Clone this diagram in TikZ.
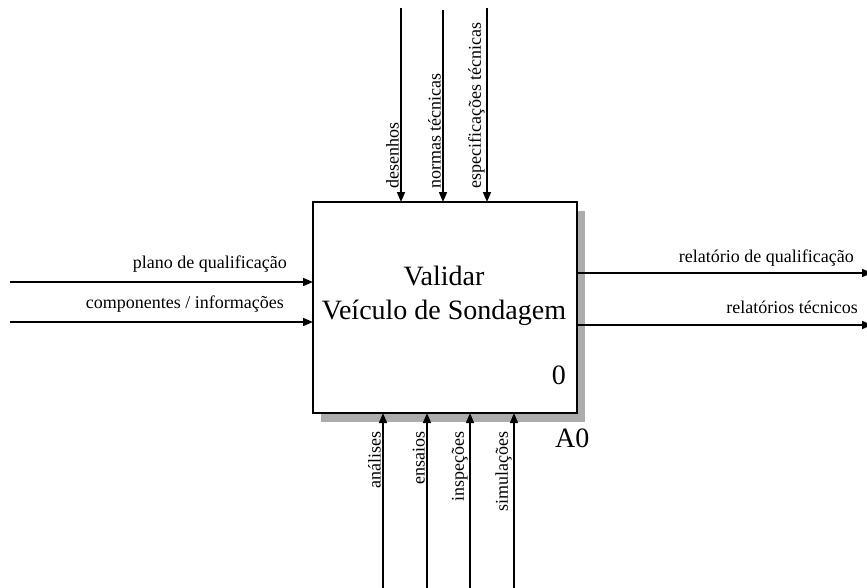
\documentclass[tikz,border=0pt]{standalone}
\usepackage{fontspec}
\setmainfont{Liberation Serif}
\usetikzlibrary{arrows.meta}
\begin{document}
\begin{tikzpicture}[x=1pt,y=-1pt,
  flow/.style={line width=1.6pt, -{Triangle[length=10pt,width=8pt]}},
  lbl/.style={font=\fontsize{18}{20}\selectfont, inner sep=1pt},
  vlbl/.style={lbl, rotate=90},
  title/.style={font=\fontsize{28}{34}\selectfont, align=center},
]
\useasboundingbox (0,0) rectangle (867,587);
% shadow and box
\fill[gray!65] (321,211) rectangle (585,422);
\node[draw, line width=2pt, fill=white, minimum width=264pt, minimum height=211pt,
      inner sep=0pt, outer sep=0pt, anchor=north west] (box) at (313,202) {};
\node[title] (ttl) at (444,296) {Validar\\Veículo de Sondagem};
\node[title, anchor=base east, inner sep=0pt] (num) at (566,384) {0};
\node[title, anchor=base west, inner sep=0pt] (nodeid) at (555,447) {A0};
% inputs
\coordinate (i1) at (10,282);
\coordinate (i2) at (10,322);
\draw[flow] (i1) -- (box.west |- i1);
\draw[flow] (i2) -- (box.west |- i2);
\node[lbl, anchor=base east] (li1) at (288,268) {plano de qualificação};
\node[lbl, anchor=base east] (li2) at (285,308) {componentes / informações};
% outputs
\coordinate (o1) at (872,273);
\coordinate (o2) at (872,325);
\draw[flow] (box.east |- o1) -- (o1);
\draw[flow] (box.east |- o2) -- (o2);
\node[lbl, anchor=base east] (lo1) at (855,262) {relatório de qualificação};
\node[lbl, anchor=base east] (lo2) at (859,313) {relatórios técnicos};
% controls
\coordinate (c1) at (401,8);
\coordinate (c2) at (443,10);
\coordinate (c3) at (487,8);
\draw[flow] (c1) -- (box.north -| c1);
\draw[flow] (c2) -- (box.north -| c2);
\draw[flow] (c3) -- (box.north -| c3);
\node[vlbl, anchor=south west] (lc1) at (400,190) {desenhos};
\node[vlbl, anchor=south west] (lc2) at (442,190) {normas técnicas};
\node[vlbl, anchor=south west] (lc3) at (486,190) {especificações técnicas};
% mechanisms
\coordinate (m1) at (383,590);
\coordinate (m2) at (427,590);
\coordinate (m3) at (470,590);
\coordinate (m4) at (514,590);
\draw[flow] (m1) -- (box.south -| m1);
\draw[flow] (m2) -- (box.south -| m2);
\draw[flow] (m3) -- (box.south -| m3);
\draw[flow] (m4) -- (box.south -| m4);
\node[vlbl, anchor=south east] (lm1) at (382,430) {análises};
\node[vlbl, anchor=south east] (lm2) at (426,430) {ensaios};
\node[vlbl, anchor=south east] (lm3) at (469,430) {inspeções};
\node[vlbl, anchor=south east] (lm4) at (513,430) {simulações};
\end{tikzpicture}
\end{document}
